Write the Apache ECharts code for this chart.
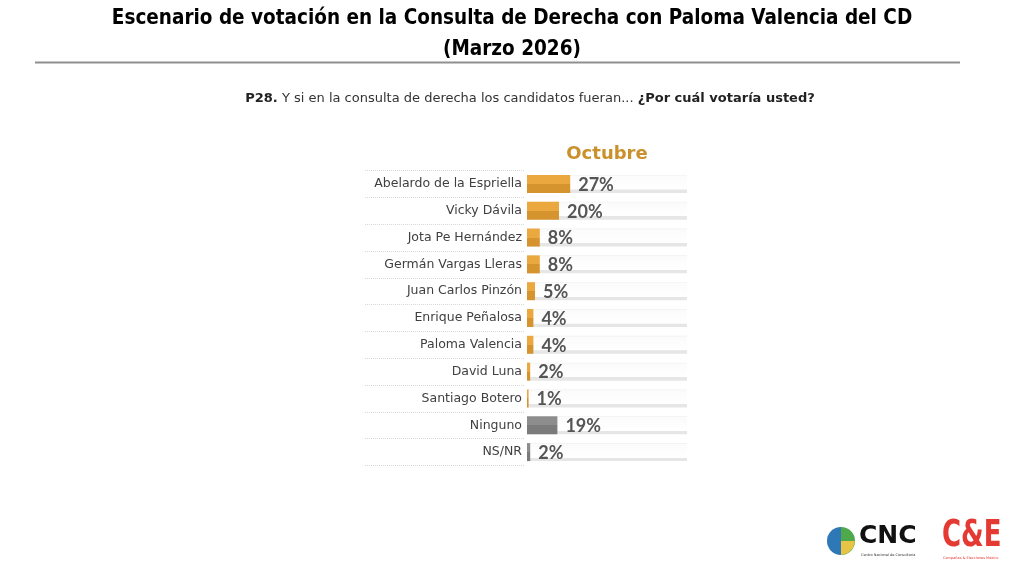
<!DOCTYPE html>
<html>
<head>
<meta charset="utf-8">
<script src="https://cdn.jsdelivr.net/npm/echarts@6/dist/echarts.min.js"></script>
<style>
html,body{margin:0;padding:0;background:#fff;}
#chart{width:1024px;height:574px;}
</style>
</head>
<body>
<div id="chart"></div>
<script>
const categories = ['Abelardo de la Espriella','Vicky Dávila','Jota Pe Hernández','Germán Vargas Lleras','Juan Carlos Pinzón','Enrique Peñalosa','Paloma Valencia','David Luna','Santiago Botero','Ninguno','NS/NR'];
const values = [27, 20, 8, 8, 5, 4, 4, 2, 1, 19, 2];
const otherOptions = ['Ninguno', 'NS/NR'];
const seriesName = 'Octubre';
const titleText = 'Escenario de votación en la Consulta de Derecha con Paloma Valencia del CD';
const titleLine2 = '(Marzo 2026)';

function grad(top, bottom) {
  return new echarts.graphic.LinearGradient(0, 0, 0, 1, [
    {offset: 0, color: top}, {offset: 0.5, color: top},
    {offset: 0.5, color: bottom}, {offset: 1, color: bottom}
  ]);
}
const orange = grad('#EBA83E', '#D6942F');
const gray = grad('#8D8D8D', '#7B7B7B');
const track = new echarts.graphic.LinearGradient(0, 0, 0, 1, [
  {offset: 0, color: '#EFEFEF'}, {offset: 0.07, color: '#FBFBFB'},
  {offset: 0.8, color: '#FFFFFF'}, {offset: 0.82, color: '#E6E6E6'}, {offset: 1, color: '#E6E6E6'}
]);
const titleFont = 'DejaVu Sans Condensed, DejaVu Sans, sans-serif';

const chart = echarts.init(document.getElementById('chart'), null, {renderer: 'canvas'});
const option = {
  backgroundColor: '#ffffff',
  animation: false,
  title: [{
    text: '{b|P28.} Y si en la consulta de derecha los candidatos fueran... {b|¿Por cuál votaría usted?}',
    left: 525, textAlign: 'center', top: 87,
    textStyle: {fontFamily: 'DejaVu Sans, sans-serif', fontWeight: 'normal', fontSize: 13, color: '#333',
      rich: {b: {fontWeight: 'bold', fontSize: 13, color: '#222', fontFamily: 'DejaVu Sans, sans-serif'}}}
  }],
  grid: [
    {left: 527, width: 160, top: 170.5, height: 295},
    {left: 365, width: 160, top: 170.5, height: 295}
  ],
  xAxis: [{
    gridIndex: 0, type: 'value', min: 0, max: 100, position: 'top',
    name: seriesName, nameLocation: 'middle', nameGap: 7,
    nameTextStyle: {fontFamily: 'DejaVu Sans, sans-serif', fontWeight: 'bold', fontSize: 18, color: '#C9902C'},
    axisLine: {show: false}, axisTick: {show: false}, axisLabel: {show: false}, splitLine: {show: false}
  }, {
    gridIndex: 1, type: 'value', show: false
  }],
  yAxis: [{
    gridIndex: 0, type: 'category', data: categories, inverse: true,
    axisLine: {show: false}, axisTick: {show: false},
    axisLabel: {margin: 5, fontFamily: 'DejaVu Sans, sans-serif', fontSize: 12.5, color: '#404040'},
    splitLine: {show: false}
  }, {
    gridIndex: 1, type: 'category', data: categories, inverse: true,
    axisLine: {show: false}, axisTick: {show: false}, axisLabel: {show: false},
    splitLine: {show: true, lineStyle: {type: 'dotted', color: '#D8D8D8', width: 1}}
  }],
  series: [{
    name: seriesName, type: 'bar', xAxisIndex: 0, yAxisIndex: 0,
    data: values.map((v, i) => ({
      value: v,
      itemStyle: {color: otherOptions.includes(categories[i]) ? gray : orange}
    })),
    barWidth: 18,
    showBackground: true,
    backgroundStyle: {color: track},
    label: {
      show: true, position: 'right', distance: 8, offset: [0, 1], formatter: '{c}%',
      fontFamily: 'Lato, sans-serif', fontWeight: 'bold', fontSize: 18, color: '#555555'
    }
  }],
  graphic: [
    {type: 'text', x: 512, y: 19, style: {text: titleText, align: 'center', verticalAlign: 'middle', fontFamily: titleFont, fontWeight: 'bold', fontSize: 20.5, fill: '#000'}},
    {type: 'text', x: 512, y: 50, style: {text: titleLine2, align: 'center', verticalAlign: 'middle', fontFamily: titleFont, fontWeight: 'bold', fontSize: 20.5, fill: '#000'}},
    {type: 'line', shape: {x1: 35, y1: 62.5, x2: 960, y2: 62.5}, style: {stroke: '#8f8f8f', lineWidth: 2}},
    // CNC logo
    {type: 'sector', shape: {cx: 841, cy: 541, r: 14, startAngle: Math.PI / 2, endAngle: Math.PI * 1.5}, style: {fill: '#2F78B7'}},
    {type: 'sector', shape: {cx: 841, cy: 541, r: 14, startAngle: -Math.PI / 2, endAngle: Math.PI / 2}, style: {fill: '#4FA84B'}},
    {type: 'polygon', shape: {points: [[841, 541], [855, 541], [853, 548], [848, 553], [841, 555]]}, style: {fill: '#E7C443'}},
    {type: 'text', x: 859, y: 524, style: {text: 'CNC', fontFamily: 'DejaVu Sans, sans-serif', fontWeight: 'bold', fontSize: 25, fill: '#111'}},
    {type: 'text', x: 861, y: 553, style: {text: 'Centro Nacional de Consultoría', fontFamily: 'DejaVu Sans, sans-serif', fontSize: 3.5, fill: '#333'}},
    // C&E logo
    {type: 'text', x: 942, y: 518, scaleX: 0.78, style: {text: 'C&E', fontFamily: titleFont, fontWeight: 'bold', fontSize: 37, fill: '#E53A33'}},
    {type: 'text', x: 943, y: 556, style: {text: 'Campañas & Elecciones México', fontFamily: 'DejaVu Sans, sans-serif', fontSize: 3.5, fill: '#E53A33'}}
  ]
};
chart.setOption(option);
</script>
</body>
</html>
